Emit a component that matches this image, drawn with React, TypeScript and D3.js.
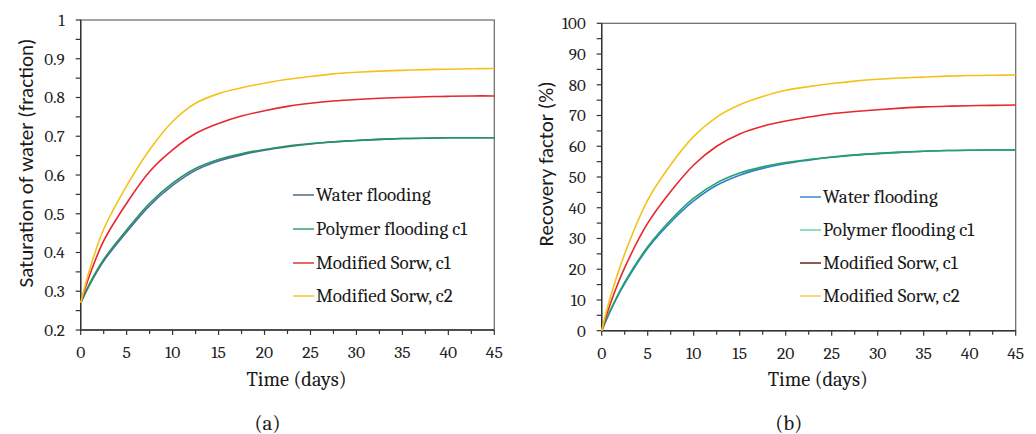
import React from "react";
import * as d3 from "d3";

// Simulation time axis (days)
const days = [0, 1, 2.5, 5, 7.5, 10, 12.5, 15, 17.5, 20, 22.5, 25, 27.5, 30, 32.5, 35, 37.5, 40, 42.5, 45];

// (a) Water saturation (fraction)
const swWater = [0.27, 0.318, 0.378, 0.453, 0.521, 0.573, 0.612, 0.636, 0.652, 0.664, 0.673, 0.68, 0.685, 0.689, 0.692, 0.694, 0.695, 0.696, 0.696, 0.696];
const swPolymer = [0.27, 0.321, 0.382, 0.458, 0.527, 0.579, 0.617, 0.64, 0.655, 0.666, 0.675, 0.681, 0.686, 0.689, 0.692, 0.694, 0.695, 0.696, 0.696, 0.696];
const swSorwC1 = [0.27, 0.343, 0.43, 0.527, 0.609, 0.665, 0.707, 0.733, 0.752, 0.766, 0.777, 0.785, 0.791, 0.795, 0.798, 0.8, 0.802, 0.803, 0.804, 0.804];
const swSorwC2 = [0.27, 0.358, 0.46, 0.572, 0.665, 0.738, 0.785, 0.81, 0.825, 0.837, 0.847, 0.854, 0.861, 0.865, 0.868, 0.87, 0.872, 0.873, 0.874, 0.875];

// (b) Recovery factor (%)
const rfWater = [0, 6.8, 15.3, 26.8, 35.3, 42.2, 47.3, 50.6, 52.8, 54.4, 55.5, 56.4, 57.1, 57.6, 58.0, 58.4, 58.6, 58.7, 58.8, 58.8];
const rfPolymer = [0, 7, 15.8, 27.3, 36, 43.1, 48.1, 51.3, 53.3, 54.7, 55.7, 56.5, 57.2, 57.7, 58.1, 58.4, 58.6, 58.7, 58.8, 58.8];
const rfSorwC1 = [0, 9.3, 20.5, 35, 45.3, 53.9, 60, 64, 66.5, 68.2, 69.5, 70.6, 71.3, 71.9, 72.4, 72.8, 73.0, 73.2, 73.3, 73.4];
const rfSorwC2 = [0, 11.5, 25, 42.5, 54, 63.2, 69.5, 73.5, 76.2, 78.2, 79.4, 80.4, 81.2, 81.8, 82.2, 82.5, 82.8, 83.0, 83.1, 83.2];

const seriesNames = ["Water flooding", "Polymer flooding c1", "Modified Sorw, c1", "Modified Sorw, c2"];

const xTicks = [0, 5, 10, 15, 20, 25, 30, 35, 40, 45];
const xMinorTicks = [2.5, 7.5, 12.5, 17.5, 22.5, 27.5, 32.5, 37.5, 42.5];
const swTicks = [0.2, 0.3, 0.4, 0.5, 0.6, 0.7, 0.8, 0.9, 1];
const rfTicks = [0, 10, 20, 30, 40, 50, 60, 70, 80, 90, 100];

const SERIF = "Cambria, 'Liberation Serif', 'DejaVu Serif', serif";
const SANS = "Calibri, 'Liberation Sans', Arial, sans-serif";

type Panel = {
  x0: number;
  x1: number;
  yTop: number;
  yBottom: number;
  yDomain: [number, number];
  yTicks: number[];
  yMinor: number[];
  yFormat: (v: number) => string;
  yTitle: string;
  yTitleX: number;
  yTitleY: number;
  yTitleLen: number;
  series: number[][];
  colors: string[];
  legendColors: string[];
  legendX: number;
  legendY: number[];
  caption: string;
};

function Chart({ p }: { p: Panel }) {
  const x = d3.scaleLinear().domain([0, 45]).range([p.x0, p.x1]);
  const y = d3.scaleLinear().domain(p.yDomain).range([p.yBottom, p.yTop]);
  const line = d3
    .line<number>()
    .x((_, i) => x(days[i]))
    .y((v) => y(v))
    .curve(d3.curveCatmullRom.alpha(0.5));
  const axisColor = "#333";
  const cx = (p.x0 + p.x1) / 2;
  return (
    <g>
      {/* plot frame */}
      <rect x={p.x0} y={p.yTop} width={p.x1 - p.x0} height={p.yBottom - p.yTop} fill="none" stroke="#666" strokeWidth={1.2} />
      <line x1={p.x0} x2={p.x0} y1={p.yTop} y2={p.yBottom} stroke={axisColor} strokeWidth={1.4} />
      <line x1={p.x0} x2={p.x1} y1={p.yBottom} y2={p.yBottom} stroke={axisColor} strokeWidth={1.4} />
      {/* y ticks */}
      {p.yTicks.map((t) => (
        <g key={"yt" + t}>
          <line x1={p.x0 - 5} x2={p.x0} y1={y(t)} y2={y(t)} stroke={axisColor} strokeWidth={1.2} />
          <text x={p.x0 - 16} y={y(t)} dy="0.35em" textAnchor="end" fontFamily={SERIF} fontSize={17} fill="#222">
            {p.yFormat(t)}
          </text>
        </g>
      ))}
      {p.yMinor.map((t) => (
        <line key={"ym" + t} x1={p.x0 - 5} x2={p.x0} y1={y(t)} y2={y(t)} stroke={axisColor} strokeWidth={1.2} />
      ))}
      {/* x ticks */}
      {xTicks.map((t) => (
        <g key={"xt" + t}>
          <line x1={x(t)} x2={x(t)} y1={p.yBottom} y2={p.yBottom + 5} stroke={axisColor} strokeWidth={1.2} />
          <text x={x(t)} y={p.yBottom + 28} textAnchor="middle" fontFamily={SERIF} fontSize={17.5} fill="#222">
            {t}
          </text>
        </g>
      ))}
      {xMinorTicks.map((t) => (
        <line key={"xm" + t} x1={x(t)} x2={x(t)} y1={p.yBottom} y2={p.yBottom + 4} stroke={axisColor} strokeWidth={1.2} />
      ))}
      {/* curves */}
      {p.series.map((s, i) => (
        <path key={"s" + i} d={line(s) || ""} fill="none" stroke={p.colors[i]} strokeWidth={1.6} />
      ))}
      {/* legend */}
      {seriesNames.map((name, i) => (
        <g key={"lg" + i}>
          <line x1={p.legendX} x2={p.legendX + 21} y1={p.legendY[i]} y2={p.legendY[i]} stroke={p.legendColors[i]} strokeWidth={1.4} />
          <text x={p.legendX + 23} y={p.legendY[i]} dy="0.33em" fontFamily={SERIF} fontSize={19} fill="#1a1a1a">
            {name}
          </text>
        </g>
      ))}
      {/* axis titles */}
      <text x={cx + 9} y={386} textAnchor="middle" fontFamily={SERIF} fontSize={20} fill="#1a1a1a" textLength={100} lengthAdjust="spacingAndGlyphs">
        Time (days)
      </text>
      <text
        transform={`translate(${p.yTitleX},${p.yTitleY}) rotate(-90)`}
        textAnchor="middle"
        dy="0.35em"
        fontFamily={SANS}
        fontSize={20}
        fill="#1a1a1a"
        textLength={p.yTitleLen}
        lengthAdjust="spacingAndGlyphs"
      >
        {p.yTitle}
      </text>
      <text x={cx - 20} y={430} textAnchor="middle" fontFamily={SERIF} fontSize={21} fill="#1a1a1a">
        {p.caption}
      </text>
    </g>
  );
}

const panelA: Panel = {
  x0: 80.7,
  x1: 494.3,
  yTop: 20,
  yBottom: 330,
  yDomain: [0.2, 1],
  yTicks: swTicks,
  yMinor: [0.25, 0.35, 0.45, 0.55, 0.65, 0.75, 0.85, 0.95],
  yFormat: (v) => (v === 1 ? "1" : v.toFixed(1)),
  yTitle: "Saturation of water (fraction)",
  yTitleX: 26,
  yTitleY: 163,
  yTitleLen: 249,
  series: [swWater, swPolymer, swSorwC1, swSorwC2],
  colors: ["#4d6aa8", "#22955a", "#e8262e", "#f5c21a"],
  legendColors: ["#4a5a80", "#2a9a5c", "#d92a2a", "#f5c21a"],
  legendX: 293,
  legendY: [195, 229, 263, 296],
  caption: "(a)",
};

const panelB: Panel = {
  x0: 601.7,
  x1: 1015.7,
  yTop: 23.3,
  yBottom: 330.7,
  yDomain: [0, 100],
  yTicks: rfTicks,
  yMinor: [5, 15, 25, 35, 45, 55, 65, 75, 85, 95],
  yFormat: (v) => String(v),
  yTitle: "Recovery factor (%)",
  yTitleX: 546,
  yTitleY: 164,
  yTitleLen: 165,
  series: [rfWater, rfPolymer, rfSorwC1, rfSorwC2],
  colors: ["#2f7fd0", "#24a266", "#e8262e", "#f5c21a"],
  legendColors: ["#2f7fd0", "#5fd39c", "#5a1414", "#f5c84a"],
  legendX: 800,
  legendY: [197, 230, 263, 296],
  caption: "(b)",
};

export default function App() {
  return (
    <svg
      width={1036}
      height={434}
      viewBox="0 0 1036 434"
      style={{ position: "absolute", left: 0, top: 0, background: "#fff" }}
    >
      <rect width={1036} height={434} fill="#fff" />
      <Chart p={panelA} />
      <Chart p={panelB} />
    </svg>
  );
}
